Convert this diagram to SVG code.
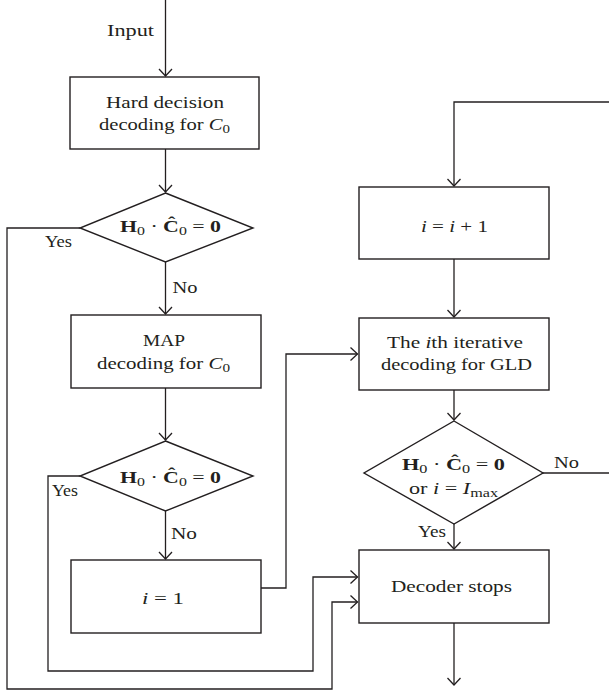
<svg xmlns="http://www.w3.org/2000/svg" width="609" height="692" viewBox="0 0 609 692">
<style>
.box{fill:#fff;stroke:#231f20;stroke-width:1.4}
.con{fill:none;stroke:#231f20;stroke-width:1.3}
text{font-family:"Liberation Serif","Times New Roman",serif;font-size:16.5px;fill:#231f20;text-anchor:middle}
.b{font-weight:bold}
.i{font-style:italic}
.s{font-size:12px}
</style>
<defs>
<marker id="arr" markerUnits="userSpaceOnUse" viewBox="-9 -8 11 16" refX="0" refY="0" markerWidth="11" markerHeight="16" orient="auto">
<path d="M-7,-6.5 L0,0 L-7,6.5" fill="none" stroke="#231f20" stroke-width="1.3"/>
</marker>
</defs>
<rect width="609" height="692" fill="#fff"/>
<g id="connectors">
<path class="con" d="M165.5,0 V76" marker-end="url(#arr)"/>
<path class="con" d="M165.5,149 V192" marker-end="url(#arr)"/>
<path class="con" d="M80,228 H7 V689 H332 V602 H357.5" marker-end="url(#arr)"/>
<path class="con" d="M165.5,262 V314" marker-end="url(#arr)"/>
<path class="con" d="M165.5,388 V440" marker-end="url(#arr)"/>
<path class="con" d="M80,476 H48 V671 H313 V577 H357.5" marker-end="url(#arr)"/>
<path class="con" d="M165.5,511 V559" marker-end="url(#arr)"/>
<path class="con" d="M261,588 H286 V354 H357.5" marker-end="url(#arr)"/>
<path class="con" d="M543,473 H609"/>
<path class="con" d="M609,102 H454 V186" marker-end="url(#arr)"/>
<path class="con" d="M454,259 V317" marker-end="url(#arr)"/>
<path class="con" d="M454,390 V420" marker-end="url(#arr)"/>
<path class="con" d="M454,524 V549" marker-end="url(#arr)"/>
<path class="con" d="M454,623 V685" marker-end="url(#arr)"/>
<text x="130.5" y="36" textLength="47" lengthAdjust="spacingAndGlyphs">Input</text>
<text x="58.5" y="247" textLength="27" lengthAdjust="spacingAndGlyphs">Yes</text>
<text x="185" y="293" textLength="25" lengthAdjust="spacingAndGlyphs">No</text>
<text x="65" y="496" textLength="26" lengthAdjust="spacingAndGlyphs">Yes</text>
<text x="184" y="539" textLength="26" lengthAdjust="spacingAndGlyphs">No</text>
<text x="566.5" y="468" textLength="25" lengthAdjust="spacingAndGlyphs">No</text>
<text x="432" y="537" textLength="28" lengthAdjust="spacingAndGlyphs">Yes</text>
</g>
<g id="hard-decision">
<rect class="box" x="70" y="77" width="189" height="72"/>
<text x="165" y="108" textLength="118" lengthAdjust="spacingAndGlyphs">Hard decision</text>
<text x="164.5" y="130" textLength="131" lengthAdjust="spacingAndGlyphs">decoding for <tspan class="i">C</tspan><tspan class="s" dy="3">0</tspan></text>
</g>
<g id="check1">
<polygon class="box" points="165.5,193 253,228 165.5,262 80,228"/>
<text x="170.5" y="232" textLength="101" lengthAdjust="spacingAndGlyphs"><tspan class="b">H</tspan><tspan class="s" dy="3">0</tspan><tspan dy="-3"> · </tspan><tspan class="b">Ĉ</tspan><tspan class="s" dy="3">0</tspan><tspan dy="-3"> = </tspan><tspan class="b">0</tspan></text>
</g>
<g id="map-decoding">
<rect class="box" x="71" y="315" width="190" height="73"/>
<text x="164" y="346" textLength="42" lengthAdjust="spacingAndGlyphs">MAP</text>
<text x="163.5" y="369" textLength="133" lengthAdjust="spacingAndGlyphs">decoding for <tspan class="i">C</tspan><tspan class="s" dy="3">0</tspan></text>
</g>
<g id="check2">
<polygon class="box" points="165.5,441 253,476 165.5,511 80,476"/>
<text x="170.5" y="483" textLength="101" lengthAdjust="spacingAndGlyphs"><tspan class="b">H</tspan><tspan class="s" dy="3">0</tspan><tspan dy="-3"> · </tspan><tspan class="b">Ĉ</tspan><tspan class="s" dy="3">0</tspan><tspan dy="-3"> = </tspan><tspan class="b">0</tspan></text>
</g>
<g id="init">
<rect class="box" x="71" y="560" width="190" height="73"/>
<text x="163" y="604" textLength="42" lengthAdjust="spacingAndGlyphs"><tspan class="i">i</tspan> = 1</text>
</g>
<g id="increment">
<rect class="box" x="359" y="187" width="190" height="72"/>
<text x="454.5" y="232" textLength="67" lengthAdjust="spacingAndGlyphs"><tspan class="i">i</tspan> = <tspan class="i">i</tspan> + 1</text>
</g>
<g id="iterative-decoding">
<rect class="box" x="359" y="318" width="190" height="72"/>
<text x="455" y="348" textLength="136" lengthAdjust="spacingAndGlyphs">The <tspan class="i">i</tspan>th iterative</text>
<text x="456.5" y="370" textLength="151" lengthAdjust="spacingAndGlyphs">decoding for GLD</text>
</g>
<g id="check3">
<polygon class="box" points="454,421 543,473 454,524 364,473"/>
<text x="453.5" y="470" textLength="103" lengthAdjust="spacingAndGlyphs"><tspan class="b">H</tspan><tspan class="s" dy="3">0</tspan><tspan dy="-3"> · </tspan><tspan class="b">Ĉ</tspan><tspan class="s" dy="3">0</tspan><tspan dy="-3"> = </tspan><tspan class="b">0</tspan></text>
<text x="453.5" y="494" textLength="89" lengthAdjust="spacingAndGlyphs">or <tspan class="i">i</tspan> = <tspan class="i">I</tspan><tspan class="s" dy="3">max</tspan></text>
</g>
<g id="decoder-stops">
<rect class="box" x="359" y="550" width="190" height="73"/>
<text x="451.5" y="592" textLength="121" lengthAdjust="spacingAndGlyphs">Decoder stops</text>
</g>
</svg>
